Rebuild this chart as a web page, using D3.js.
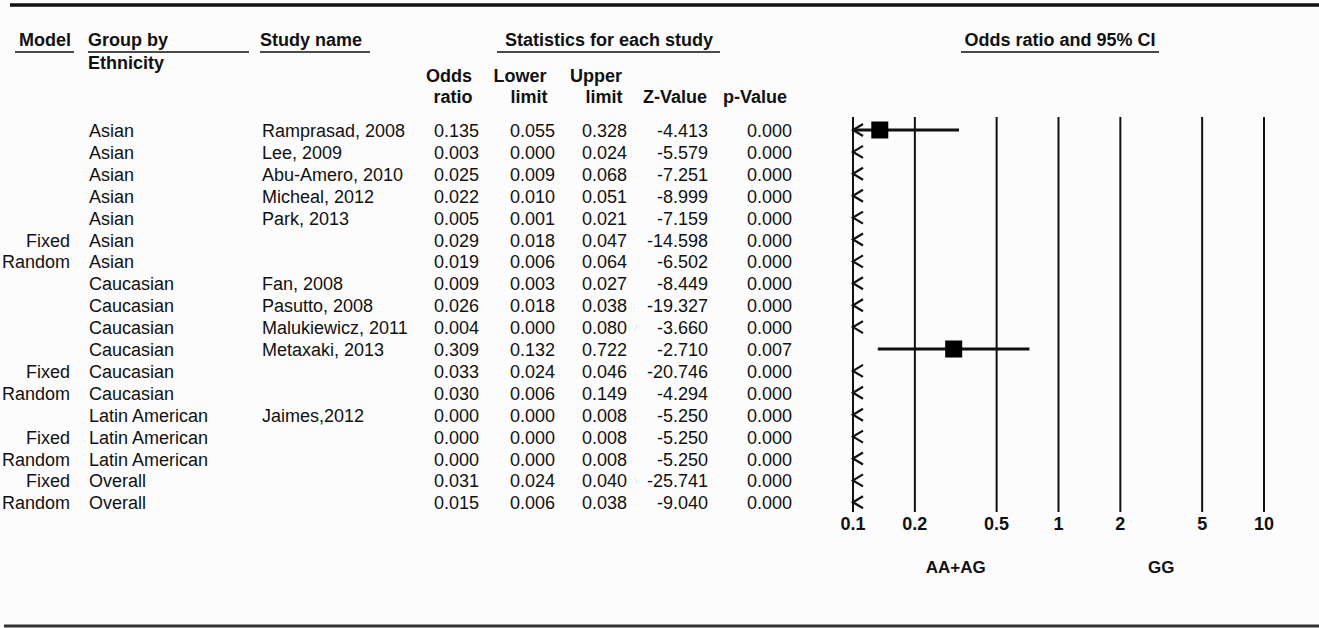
<!DOCTYPE html>
<html>
<head>
<meta charset="utf-8">
<script src="https://cdn.jsdelivr.net/npm/d3@7"></script>
<style>
  body { margin: 0; background: #fcfcfd; }
  svg { display: block; font-family: "Liberation Sans", Arial, sans-serif; }
</style>
</head>
<body>
<svg id="forest" width="1319" height="628"></svg>
<script>
// table columns, one entry per row
var models = ["", "", "", "", "", "Fixed", "Random", "", "", "", "", "Fixed", "Random", "", "Fixed", "Random", "Fixed", "Random"];
var groups = ["Asian", "Asian", "Asian", "Asian", "Asian", "Asian", "Asian",
    "Caucasian", "Caucasian", "Caucasian", "Caucasian", "Caucasian", "Caucasian",
    "Latin American", "Latin American", "Latin American", "Overall", "Overall"];
var studies = ["Ramprasad, 2008", "Lee, 2009", "Abu-Amero, 2010", "Micheal, 2012", "Park, 2013", "", "",
    "Fan, 2008", "Pasutto, 2008", "Malukiewicz, 2011", "Metaxaki, 2013", "", "",
    "Jaimes,2012", "", "", "", ""];
var oddsRatios = [0.135, 0.003, 0.025, 0.022, 0.005, 0.029, 0.019, 0.009, 0.026, 0.004, 0.309, 0.033, 0.030, 0.000, 0.000, 0.000, 0.031, 0.015];
var lowerLimits = [0.055, 0.000, 0.009, 0.010, 0.001, 0.018, 0.006, 0.003, 0.018, 0.000, 0.132, 0.024, 0.006, 0.000, 0.000, 0.000, 0.024, 0.006];
var upperLimits = [0.328, 0.024, 0.068, 0.051, 0.021, 0.047, 0.064, 0.027, 0.038, 0.080, 0.722, 0.046, 0.149, 0.008, 0.008, 0.008, 0.040, 0.038];
var zValues = [-4.413, -5.579, -7.251, -8.999, -7.159, -14.598, -6.502, -8.449, -19.327, -3.660, -2.710, -20.746, -4.294, -5.250, -5.250, -5.250, -25.741, -9.040];
var pValues = [0.000, 0.000, 0.000, 0.000, 0.000, 0.000, 0.000, 0.000, 0.000, 0.000, 0.007, 0.000, 0.000, 0.000, 0.000, 0.000, 0.000, 0.000];
var axisTicks = [0.1, 0.2, 0.5, 1, 2, 5, 10];
var favourLabels = ["AA+AG", "GG"];

var svg = d3.select("#forest");
var fmt = v => v.toFixed(3);

var x = d3.scaleLog().domain([0.1, 10]).range([853, 1264]);
var y = d3.scalePoint().domain(d3.range(models.length)).range([130, 502.3]);

// rules top and bottom
svg.append("line").attr("x1", 10).attr("x2", 1319).attr("y1", 5).attr("y2", 5)
    .attr("stroke", "#111").attr("stroke-width", 3.5);
svg.append("line").attr("x1", 4).attr("x2", 1319).attr("y1", 626).attr("y2", 626)
    .attr("stroke", "#333").attr("stroke-width", 3);

// headers
var heads = [
    {t: "Model", x: 19, y: 46, a: "start"},
    {t: "Group by", x: 88, y: 46, a: "start"},
    {t: "Ethnicity", x: 88, y: 69, a: "start"},
    {t: "Study name", x: 260, y: 46, a: "start"},
    {t: "Statistics for each study", x: 609, y: 46, a: "middle"},
    {t: "Odds ratio and 95% CI", x: 1060, y: 46, a: "middle"},
    {t: "Odds", x: 449, y: 82, a: "middle"},
    {t: "ratio", x: 453, y: 103, a: "middle"},
    {t: "Lower", x: 520, y: 82, a: "middle"},
    {t: "limit", x: 529, y: 103, a: "middle"},
    {t: "Upper", x: 596, y: 82, a: "middle"},
    {t: "limit", x: 604, y: 103, a: "middle"},
    {t: "Z-Value", x: 675, y: 103, a: "middle"},
    {t: "p-Value", x: 755, y: 103, a: "middle"}
];
svg.append("g").selectAll("text").data(heads).enter().append("text")
    .attr("x", d => d.x).attr("y", d => d.y)
    .attr("text-anchor", d => d.a)
    .attr("font-size", 18).attr("font-weight", "bold").attr("fill", "#111")
    .text(d => d.t);

var underlines = [[15, 74], [88, 249], [260, 370], [497, 720], [961, 1159]];
svg.append("g").selectAll("line").data(underlines).enter().append("line")
    .attr("x1", d => d[0]).attr("x2", d => d[1])
    .attr("y1", 52).attr("y2", 52)
    .attr("stroke", "#111").attr("stroke-width", 1.6);

// table body
var cols = [
    {vals: models, x: 70, a: "end"},
    {vals: groups, x: 89, a: "start"},
    {vals: studies, x: 262, a: "start"},
    {vals: oddsRatios.map(fmt), x: 479, a: "end"},
    {vals: lowerLimits.map(fmt), x: 555, a: "end"},
    {vals: upperLimits.map(fmt), x: 627, a: "end"},
    {vals: zValues.map(fmt), x: 708, a: "end"},
    {vals: pValues.map(fmt), x: 792, a: "end"}
];
cols.forEach(function (c) {
    svg.append("g").selectAll("text").data(c.vals).enter().append("text")
        .attr("x", c.x)
        .attr("y", (d, i) => y(i) + 7)
        .attr("text-anchor", c.a)
        .attr("font-size", 18).attr("fill", "#111")
        .text(d => d);
});

// reference lines of the log axis
var plot = svg.append("g");
plot.selectAll(".grid").data(axisTicks).enter().append("line")
    .attr("class", "grid")
    .attr("x1", d => x(d)).attr("x2", d => x(d))
    .attr("y1", 117).attr("y2", 512)
    .attr("stroke", "#111").attr("stroke-width", 2);

plot.selectAll(".tick").data(axisTicks).enter().append("text")
    .attr("class", "tick")
    .attr("x", d => x(d)).attr("y", 530)
    .attr("text-anchor", "middle")
    .attr("font-size", 18).attr("font-weight", "bold").attr("fill", "#111")
    .text(d => d);

plot.selectAll(".fav").data(favourLabels).enter().append("text")
    .attr("class", "fav")
    .attr("x", (d, i) => x(i === 0 ? Math.sqrt(0.1) : Math.sqrt(10)))
    .attr("y", 573)
    .attr("text-anchor", "middle")
    .attr("font-size", 17).attr("font-weight", "bold").attr("fill", "#111")
    .text(d => d);

// CI lines, boxes and off-scale arrows
var lo = x.domain()[0], hi = x.domain()[1];
function arrow(cy) {
    plot.append("path")
        .attr("d", "M" + (x(lo) + 10) + "," + (cy - 6) + "L" + x(lo) + "," + cy + "L" + (x(lo) + 10) + "," + (cy + 6))
        .attr("fill", "none").attr("stroke", "#111").attr("stroke-width", 2.2);
}
oddsRatios.forEach(function (or, i) {
    var cy = y(i);
    var l = lowerLimits[i], u = upperLimits[i];
    // estimate below the scale: only the arrow is drawn
    if (or < lo) { arrow(cy); return; }
    plot.append("line")
        .attr("x1", x(Math.max(l, lo))).attr("x2", x(Math.min(u, hi)))
        .attr("y1", cy).attr("y2", cy)
        .attr("stroke", "#111").attr("stroke-width", 3);
    if (l < lo) arrow(cy);
    plot.append("rect")
        .attr("x", x(or) - 8.5).attr("y", cy - 8.5)
        .attr("width", 17).attr("height", 17)
        .attr("fill", "#000");
});
</script>
</body>
</html>
